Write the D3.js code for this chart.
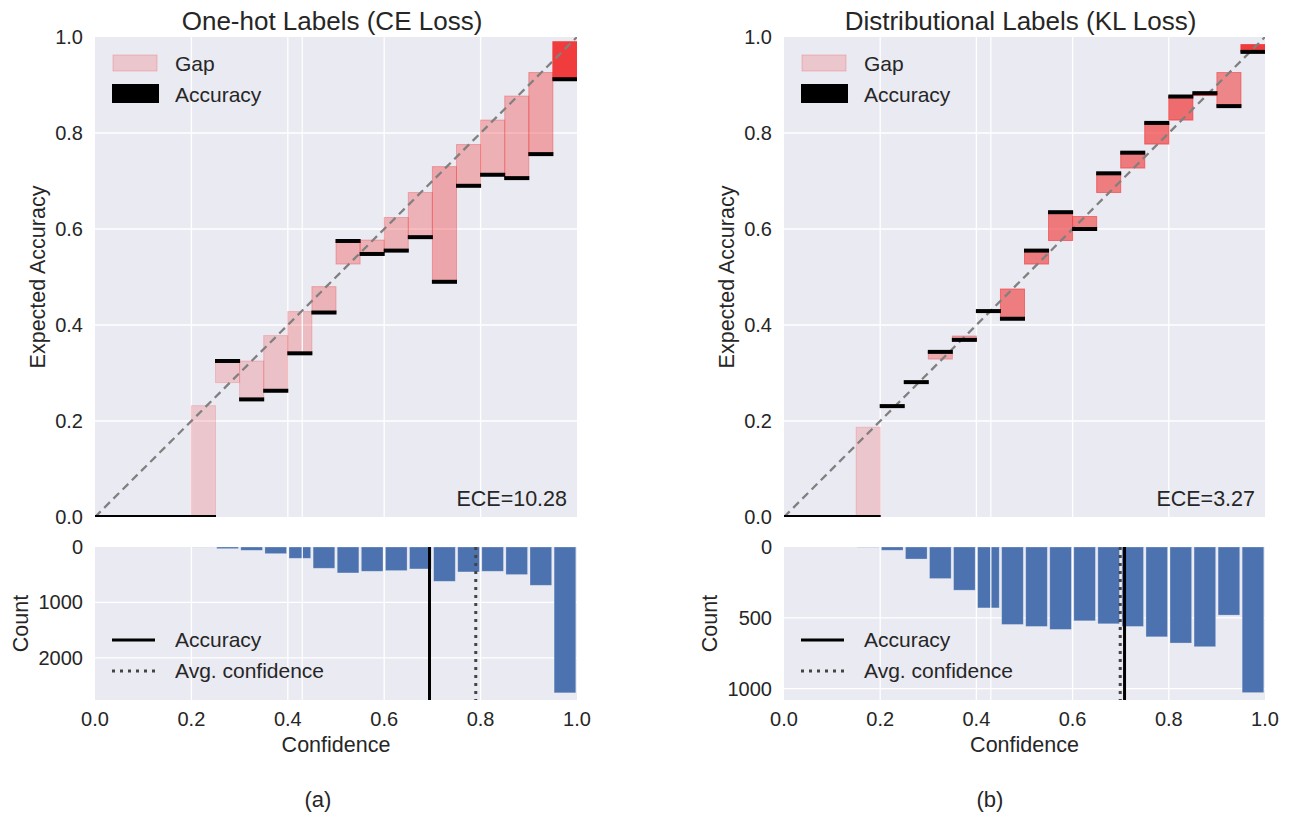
<!DOCTYPE html>
<html>
<head>
<meta charset="utf-8">
<script src="https://cdn.jsdelivr.net/npm/d3@7"></script>
<style>
  body { margin: 0; background: #fff; }
  svg text { font-family: "Liberation Sans", Arial, Helvetica, sans-serif; fill: #262626; }
</style>
</head>
<body>
<div id="chart"></div>
<script>
(function(d3) {

var binLower = [0, 0.05, 0.1, 0.15, 0.2, 0.25, 0.3, 0.35, 0.4, 0.45,
                0.5, 0.55, 0.6, 0.65, 0.7, 0.75, 0.8, 0.85, 0.9, 0.95];
var binWidth = 0.05;

// panel (a) one-hot labels
var leftAcc   = [0, 0, 0, 0, 0, 0.325, 0.245, 0.263, 0.341, 0.426, 0.575, 0.548, 0.555, 0.583, 0.490, 0.690, 0.713, 0.706, 0.756, 0.912];
var leftConf  = [0, 0, 0, 0, 0.232, 0.280, 0.325, 0.378, 0.428, 0.480, 0.527, 0.577, 0.624, 0.676, 0.730, 0.776, 0.827, 0.877, 0.926, 0.990];
var leftCount = [0, 0, 0, 0, 1, 30, 60, 120, 204, 384, 468, 438, 426, 396, 619, 450, 438, 498, 691, 2631];

// panel (b) distributional labels
var rightAcc   = [0, 0, 0, 0, 0.231, 0.281, 0.344, 0.369, 0.429, 0.413, 0.555, 0.635, 0.600, 0.716, 0.759, 0.821, 0.876, 0.883, 0.856, 0.969];
var rightConf  = [0, 0, 0, 0.187, 0.234, 0.280, 0.329, 0.377, 0.427, 0.475, 0.527, 0.576, 0.626, 0.676, 0.727, 0.777, 0.827, 0.878, 0.926, 0.984];
var rightCount = [0, 0, 0, 1, 23, 85, 223, 305, 430, 547, 561, 582, 521, 542, 561, 634, 678, 704, 481, 1028];

var xTicks = [0, 0.2, 0.4, 0.6, 0.8, 1.0];
var yTicks = [0, 0.2, 0.4, 0.6, 0.8, 1.0];

var panels = [
  { title: 'One-hot Labels (CE Loss)', ece: 'ECE=10.28', tag: '(a)',
    acc: leftAcc, conf: leftConf, count: leftCount,
    countMax: 2760, countTicks: [0, 1000, 2000],
    avgAcc: 0.694, avgConf: 0.790, x0: 95, x1: 577 },
  { title: 'Distributional Labels (KL Loss)', ece: 'ECE=3.27', tag: '(b)',
    acc: rightAcc, conf: rightConf, count: rightCount,
    countMax: 1080, countTicks: [0, 500, 1000],
    avgAcc: 0.708, avgConf: 0.699, x0: 784, x1: 1265 }
];

var width = 1289;
var height = 817;
var topY0 = 37, topY1 = 517;
var histY0 = 547, histY1 = 700;
var bg = '#EAEAF2';
var histBlue = '#4C72B0';

var svg = d3.select('#chart')
  .append('svg')
  .attr('width', width)
  .attr('height', height);

panels.forEach(function(p, pi) {
  var x = d3.scaleLinear().domain([0, 1]).range([p.x0, p.x1]);
  var y = d3.scaleLinear().domain([0, 1]).range([topY1, topY0]);
  var yc = d3.scaleLinear().domain([0, p.countMax]).range([histY0, histY1]);
  var maxCount = d3.max(p.count);
  var alpha = function(c) { return 0.2 + 0.8 * c / maxCount; };

  svg.append('clipPath').attr('id', 'clipTop' + pi)
    .append('rect').attr('x', p.x0).attr('y', topY0)
    .attr('width', p.x1 - p.x0).attr('height', topY1 - topY0);
  svg.append('clipPath').attr('id', 'clipHist' + pi)
    .append('rect').attr('x', p.x0).attr('y', histY0)
    .attr('width', p.x1 - p.x0).attr('height', histY1 - histY0);

  // ---- reliability diagram ----
  var top = svg.append('g');
  top.append('rect')
    .attr('x', p.x0).attr('y', topY0)
    .attr('width', p.x1 - p.x0).attr('height', topY1 - topY0)
    .attr('fill', bg);

  top.append('g').selectAll('line')
    .data(yTicks.slice(1, -1))
    .enter().append('line')
    .attr('x1', p.x0).attr('x2', p.x1)
    .attr('y1', y).attr('y2', y)
    .attr('stroke', '#fff').attr('stroke-width', 1.3);
  top.append('g').selectAll('line')
    .data(xTicks.slice(1, -1))
    .enter().append('line')
    .attr('y1', topY0).attr('y2', topY1)
    .attr('x1', x).attr('x2', x)
    .attr('stroke', '#fff').attr('stroke-width', 1.3);

  var plot = top.append('g').attr('clip-path', 'url(#clipTop' + pi + ')');

  plot.selectAll('rect.gap')
    .data(binLower)
    .enter().append('rect')
    .attr('class', 'gap')
    .attr('x', function(d) { return x(d); })
    .attr('width', x(binWidth) - x(0))
    .attr('y', function(d, i) { return y(Math.max(p.acc[i], p.conf[i])); })
    .attr('height', function(d, i) { return Math.abs(y(p.acc[i]) - y(p.conf[i])); })
    .attr('fill', function(d, i) { return 'rgba(240,60,60,' + alpha(p.count[i]) + ')'; })
    .attr('stroke', function(d, i) { return 'rgba(240,60,60,' + alpha(p.count[i]) + ')'; })
    .attr('stroke-width', 1);

  plot.append('line')
    .attr('x1', x(0.43)).attr('x2', x(0.43))
    .attr('y1', topY0).attr('y2', topY1)
    .attr('stroke', '#fff').attr('stroke-width', 1.2);

  plot.append('line')
    .attr('x1', x(0)).attr('y1', y(0))
    .attr('x2', x(1)).attr('y2', y(1))
    .attr('stroke', '#808080').attr('stroke-width', 2.3)
    .attr('stroke-dasharray', '8,5');

  plot.selectAll('line.acc')
    .data(binLower)
    .enter().append('line')
    .attr('class', 'acc')
    .attr('x1', function(d) { return x(d) - 0.5; })
    .attr('x2', function(d) { return x(d + binWidth) + 0.5; })
    .attr('y1', function(d, i) { return y(p.acc[i]); })
    .attr('y2', function(d, i) { return y(p.acc[i]); })
    .attr('stroke', '#000').attr('stroke-width', 4);

  top.append('g').selectAll('text')
    .data(yTicks)
    .enter().append('text')
    .attr('x', p.x0 - 12)
    .attr('y', function(d) { return y(d) + 7; })
    .attr('text-anchor', 'end')
    .style('font-size', '20px')
    .text(function(d) { return d.toFixed(1); });

  top.append('text')
    .attr('transform', 'translate(' + (p.x0 - 50) + ',' + ((topY0 + topY1) / 2) + ') rotate(-90)')
    .attr('text-anchor', 'middle')
    .style('font-size', '21.5px')
    .text('Expected Accuracy');

  top.append('text')
    .attr('x', (p.x0 + p.x1) / 2 - 4)
    .attr('y', 30)
    .attr('text-anchor', 'middle')
    .style('font-size', '26px')
    .text(p.title);

  top.append('text')
    .attr('x', p.x1 - 10)
    .attr('y', 506)
    .attr('text-anchor', 'end')
    .style('font-size', '21.5px')
    .text(p.ece);

  // legend of the upper panel
  var lg = top.append('g');
  lg.append('rect')
    .attr('x', p.x0 + 18).attr('y', 55).attr('width', 44).attr('height', 16)
    .attr('fill', 'rgba(240,60,60,0.2)')
    .attr('stroke', 'rgba(240,60,60,0.25)');
  lg.append('rect')
    .attr('x', p.x0 + 17).attr('y', 84).attr('width', 47).attr('height', 19)
    .attr('fill', '#000');
  lg.append('text')
    .attr('x', p.x0 + 80).attr('y', 71)
    .style('font-size', '21px').text('Gap');
  lg.append('text')
    .attr('x', p.x0 + 80).attr('y', 102)
    .style('font-size', '21px').text('Accuracy');

  // ---- histogram ----
  var hist = svg.append('g');
  hist.append('rect')
    .attr('x', p.x0).attr('y', histY0)
    .attr('width', p.x1 - p.x0).attr('height', histY1 - histY0)
    .attr('fill', bg);

  hist.append('g').selectAll('line')
    .data(p.countTicks.slice(1))
    .enter().append('line')
    .attr('x1', p.x0).attr('x2', p.x1)
    .attr('y1', yc).attr('y2', yc)
    .attr('stroke', '#fff').attr('stroke-width', 1.3);
  hist.append('g').selectAll('line')
    .data(xTicks.slice(1, -1))
    .enter().append('line')
    .attr('y1', histY0).attr('y2', histY1)
    .attr('x1', x).attr('x2', x)
    .attr('stroke', '#fff').attr('stroke-width', 1.3);

  var hplot = hist.append('g').attr('clip-path', 'url(#clipHist' + pi + ')');

  hplot.selectAll('rect.bin')
    .data(binLower)
    .enter().append('rect')
    .attr('class', 'bin')
    .attr('x', function(d) { return x(d + binWidth * 0.05); })
    .attr('width', x(binWidth * 0.9) - x(0))
    .attr('y', histY0)
    .attr('height', function(d, i) { return yc(p.count[i]) - histY0; })
    .attr('fill', histBlue)
    .attr('stroke', function(d, i) { return p.count[i] > 5 ? 'rgba(255,255,255,0.35)' : 'none'; })
    .attr('stroke-width', 0.8);

  hplot.append('line')
    .attr('x1', x(0.43)).attr('x2', x(0.43))
    .attr('y1', histY0).attr('y2', histY1)
    .attr('stroke', '#fff').attr('stroke-width', 1.2);

  hplot.append('line')
    .attr('x1', x(p.avgAcc)).attr('x2', x(p.avgAcc))
    .attr('y1', histY0).attr('y2', histY1)
    .attr('stroke', '#000').attr('stroke-width', 3);
  hplot.append('line')
    .attr('x1', x(p.avgConf)).attr('x2', x(p.avgConf))
    .attr('y1', histY0).attr('y2', histY1)
    .attr('stroke', '#444').attr('stroke-width', 3)
    .attr('stroke-dasharray', '3,5');

  hist.append('g').selectAll('text')
    .data(p.countTicks)
    .enter().append('text')
    .attr('x', p.x0 - 12)
    .attr('y', function(d) { return yc(d) + 7; })
    .attr('text-anchor', 'end')
    .style('font-size', '20px')
    .text(function(d) { return d; });

  hist.append('g').selectAll('text')
    .data(xTicks)
    .enter().append('text')
    .attr('x', x)
    .attr('y', 726)
    .attr('text-anchor', 'middle')
    .style('font-size', '20px')
    .text(function(d) { return d.toFixed(1); });

  hist.append('text')
    .attr('transform', 'translate(' + (p.x0 - 67) + ',' + ((histY0 + histY1) / 2) + ') rotate(-90)')
    .attr('text-anchor', 'middle')
    .style('font-size', '21.5px')
    .text('Count');

  hist.append('text')
    .attr('x', (p.x0 + p.x1) / 2)
    .attr('y', 752)
    .attr('text-anchor', 'middle')
    .style('font-size', '21.5px')
    .text('Confidence');

  var hl = hist.append('g');
  hl.append('line')
    .attr('x1', p.x0 + 17).attr('x2', p.x0 + 60)
    .attr('y1', 640).attr('y2', 640)
    .attr('stroke', '#000').attr('stroke-width', 3);
  hl.append('line')
    .attr('x1', p.x0 + 17).attr('x2', p.x0 + 60)
    .attr('y1', 671).attr('y2', 671)
    .attr('stroke', '#444').attr('stroke-width', 3)
    .attr('stroke-dasharray', '3,5');
  hl.append('text')
    .attr('x', p.x0 + 80).attr('y', 647)
    .style('font-size', '21px').text('Accuracy');
  hl.append('text')
    .attr('x', p.x0 + 80).attr('y', 678)
    .style('font-size', '21px').text('Avg. confidence');

  svg.append('text')
    .attr('x', pi === 0 ? 318 : 990)
    .attr('y', 807)
    .attr('text-anchor', 'middle')
    .style('font-size', '22px')
    .text(p.tag);
});

})(window.d3);
</script>
</body>
</html>
